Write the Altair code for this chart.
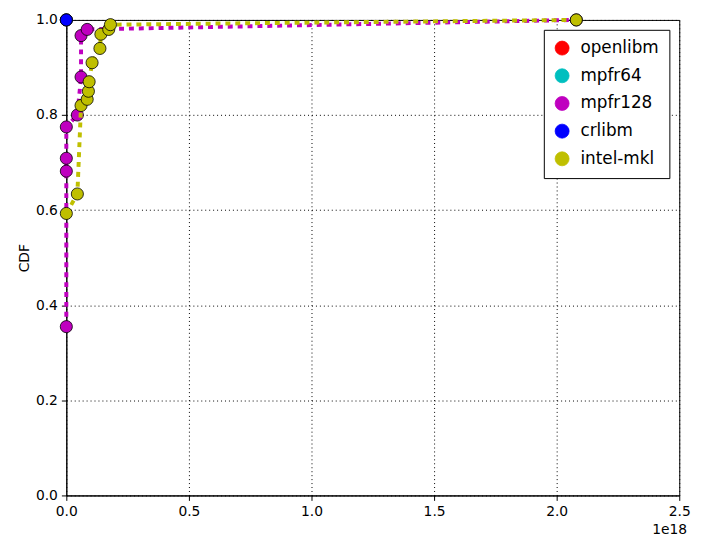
import pandas as pd
import altair as alt

libs = ["openlibm", "mpfr64", "mpfr128", "crlibm", "intel-mkl"]
colors = ["#ff0000", "#00bfbf", "#bf00bf", "#0000ff", "#bfbf00"]

# x values in units of 1e18
openlibm_x = [0.0]
openlibm_y = [1.0]
mpfr64_x = [0.0]
mpfr64_y = [1.0]
mpfr128_x = [0.0, 0.0, 0.0, 0.0, 0.045, 0.06, 0.06, 0.085, 2.08]
mpfr128_y = [0.355, 0.682, 0.709, 0.775, 0.80, 0.88, 0.967, 0.98, 1.0]
crlibm_x = [0.0]
crlibm_y = [1.0]
mkl_x = [0.0, 0.045, 0.06, 0.085, 0.09, 0.093, 0.105, 0.137, 0.141, 0.173, 0.18, 2.08]
mkl_y = [0.593, 0.634, 0.82, 0.833, 0.85, 0.87, 0.91, 0.94, 0.97, 0.98, 0.99, 1.0]

rows = []
for lib, xs, ys in zip(libs, [openlibm_x, mpfr64_x, mpfr128_x, crlibm_x, mkl_x],
                       [openlibm_y, mpfr64_y, mpfr128_y, crlibm_y, mkl_y]):
    for i, (x, y) in enumerate(zip(xs, ys)):
        rows.append({"lib": lib, "x": x, "y": y, "i": i})
df = pd.DataFrame(rows)

color = alt.Color("lib:N", scale=alt.Scale(domain=libs, range=colors),
                  legend=alt.Legend(title=None, orient="top-right", symbolType="circle",
                                    symbolSize=200, symbolStrokeColor="black", symbolStrokeWidth=0.8,
                                    labelFontSize=17, labelFont="DejaVu Sans", rowPadding=9,
                                    strokeColor="black", fillColor="white", padding=10,
                                    labelColor="black", offset=10, labelOffset=10))

x = alt.X("x:Q", scale=alt.Scale(domain=[0, 2.5], nice=False),
          axis=alt.Axis(values=[0, 0.5, 1.0, 1.5, 2.0, 2.5], format=".1f", title=None,
                        labelFlush=False))
y = alt.Y("y:Q", scale=alt.Scale(domain=[0, 1]),
          axis=alt.Axis(values=[0, 0.2, 0.4, 0.6, 0.8, 1.0], format=".1f", title="CDF",
                        titleFontWeight="normal", titleFontSize=14, labelFlush=False))

base = alt.Chart(df)
layers = []
for lib in libs:
    sub = base.transform_filter(alt.datum.lib == lib)
    layers.append(sub.mark_line(strokeDash=[5, 5], strokeWidth=4).encode(
        x=x, y=y, color=color, order="i:Q"))
    layers.append(sub.mark_point(filled=True, size=150, opacity=1, stroke="black",
                                 strokeWidth=0.8).encode(x=x, y=y, color=color))

label = alt.Chart(pd.DataFrame({"t": ["1e18"]})).mark_text(
    fontSize=14, font="DejaVu Sans", align="right", color="black").encode(
    text="t:N", x=alt.value(628), y=alt.value(43 + 481 - 8))

chart = alt.layer(*layers, label).properties(
    width=620, height=481, autosize=alt.AutoSizeParams(type="none"),
    padding={"left": 59, "top": 9, "right": 23, "bottom": 40}
).configure_axis(
    grid=True, gridColor="black", gridDash=[1, 3], gridOpacity=1,
    domainColor="black", tickColor="black", labelColor="black",
    labelFontSize=14, labelFont="DejaVu Sans", titleFont="DejaVu Sans",
    titleColor="black", labelPadding=4
).configure_view(stroke="black", strokeWidth=1)

chart.save("out.html", embed_options={"renderer": "svg", "actions": False})
